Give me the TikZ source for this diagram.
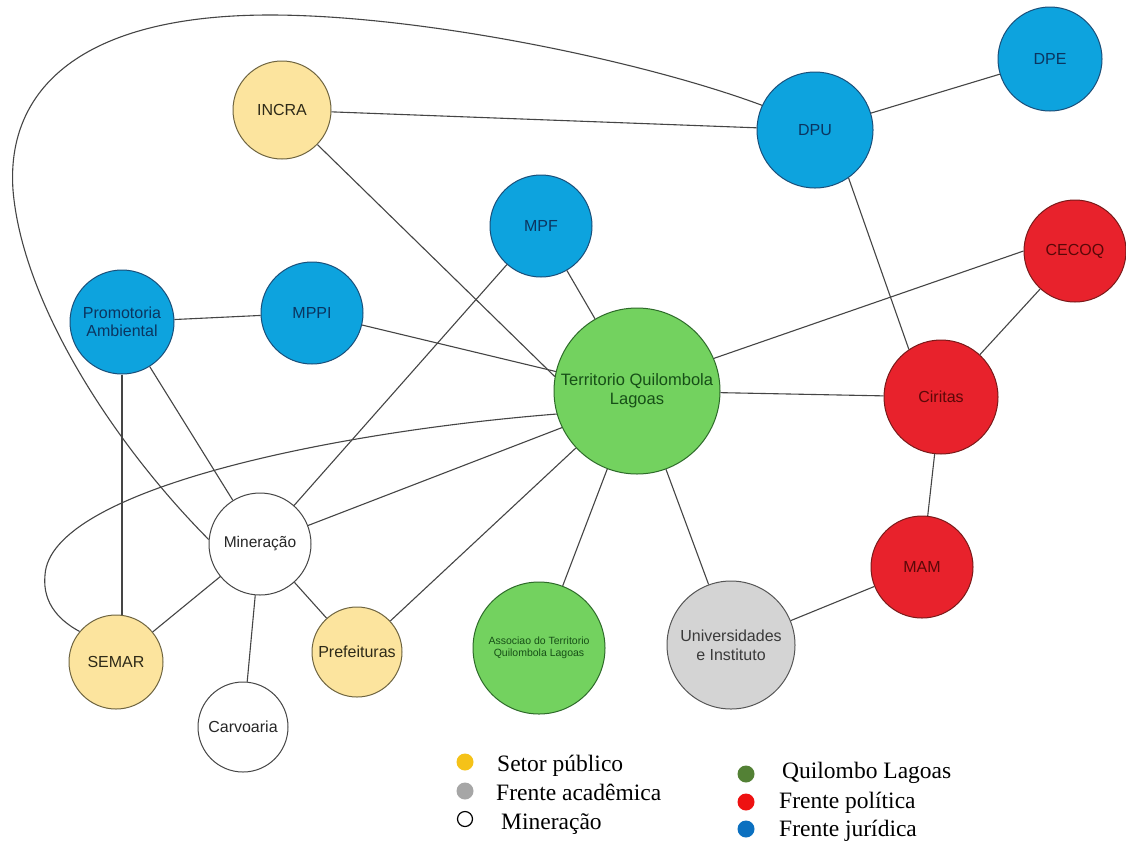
\documentclass[tikz,border=0pt]{standalone}
\usepackage{fontspec}
\setmainfont{Liberation Serif}
\setsansfont{Liberation Sans}
\definecolor{bfill}{HTML}{0DA3DE}
\definecolor{bdraw}{HTML}{1A4F7A}
\definecolor{btext}{HTML}{0B3560}
\definecolor{yfill}{HTML}{FCE49E}
\definecolor{ydraw}{HTML}{6E6440}
\definecolor{ytext}{HTML}{2E2A18}
\definecolor{gfill}{HTML}{73D25F}
\definecolor{gdraw}{HTML}{2E6B2A}
\definecolor{gtext}{HTML}{174F17}
\definecolor{rfill}{HTML}{E8222C}
\definecolor{rdraw}{HTML}{7A1A1A}
\definecolor{rtext}{HTML}{5A0808}
\definecolor{afill}{HTML}{D4D4D4}
\definecolor{adraw}{HTML}{555555}
\definecolor{atext}{HTML}{3A3A3A}
\definecolor{edgec}{HTML}{454545}
\definecolor{lyel}{HTML}{F5C218}
\definecolor{lgry}{HTML}{A6A6A6}
\definecolor{lgrn}{HTML}{538135}
\definecolor{lred}{HTML}{EE1111}
\definecolor{lblu}{HTML}{0B70C0}
\tikzset{
  nd/.style={circle, line width=1pt, inner sep=0pt, align=center,
    font=\sffamily\fontsize{16}{18}\selectfont},
  bnode/.style={nd, fill=bfill, draw=bdraw, text=btext},
  ynode/.style={nd, fill=yfill, draw=ydraw, text=ytext},
  gnode/.style={nd, fill=gfill, draw=gdraw, text=gtext},
  rnode/.style={nd, fill=rfill, draw=rdraw, text=rtext},
  anode/.style={nd, fill=afill, draw=adraw, text=atext},
  wnode/.style={nd, fill=white, draw=edgec, text=black!85},
  ed/.style={draw=edgec, line width=1.1pt},
  ldot/.style={circle, inner sep=0pt, minimum size=17pt},
  ltext/.style={anchor=base west, inner sep=0pt, font=\fontsize{23.5}{25}\selectfont}
}
\begin{document}
\begin{tikzpicture}[x=1pt,y=-1pt]
\useasboundingbox (0,0) rectangle (1126,847);
\fill[white] (0,0) rectangle (1126,847);

% nodes
\node[ynode, minimum size=98pt] (incra) at (282,110) {INCRA};
\node[bnode, minimum size=116pt] (dpu) at (815,130) {DPU};
\node[bnode, minimum size=104pt] (dpe) at (1050,59) {DPE};
\node[bnode, minimum size=102pt] (mpf) at (541,226) {MPF};
\node[bnode, minimum size=104pt] (prom) at (122,322) {Promotoria\\Ambiental};
\node[bnode, minimum size=102pt] (mppi) at (312,313) {MPPI};
\node[gnode, minimum size=166pt, font=\sffamily\fontsize{16.5}{19}\selectfont] (terr) at (637,391) {Territorio Quilombola\\Lagoas};
\node[rnode, minimum size=114pt] (ciritas) at (941,397) {Ciritas};
\node[rnode, minimum size=102pt] (cecoq) at (1075,251) {CECOQ};
\node[rnode, minimum size=102pt] (mam) at (922,567) {MAM};
\node[wnode, minimum size=102pt, font=\sffamily\fontsize{15.5}{17}\selectfont] (mine) at (260,544) {Mineração};
\node[ynode, minimum size=94pt] (semar) at (116,662) {SEMAR};
\node[wnode, minimum size=90pt] (carv) at (243,727) {Carvoaria};
\node[ynode, minimum size=90pt] (pref) at (357,652) {Prefeituras};
\node[gnode, minimum size=132pt, font=\sffamily\fontsize{10.5}{12.5}\selectfont] (assoc) at (539,648) {Associao do Territorio\\Quilombola Lagoas};
\node[anode, minimum size=128pt, font=\sffamily\fontsize{16}{19}\selectfont] (univ) at (731,645) {Universidades\\e Instituto};

% straight connectors
\draw[ed] (incra) -- (dpu);
\draw[ed] (incra) -- (terr.170);
\draw[ed] (dpu) -- (dpe);
\draw[ed] (dpu.305) -- (ciritas.124);
\draw[ed] (mpf) -- (terr);
\draw[ed] (mpf) -- (mine);
\draw[ed] (prom) -- (mppi);
\draw[ed] (mppi) -- (terr);
\draw[ed] (prom.south) -- (semar.north -| prom.south);
\draw[ed] (prom) -- (mine);
\draw[ed] (terr.23) -- (cecoq.180);
\draw[ed] (terr) -- (ciritas);
\draw[ed] (ciritas) -- (cecoq);
\draw[ed] (ciritas) -- (mam);
\draw[ed] (mam) -- (univ);
\draw[ed] (terr) -- (univ);
\draw[ed] (terr) -- (assoc);
\draw[ed] (terr) -- (pref);
\draw[ed] (terr.206) -- (mine);
\draw[ed] (mine) -- (semar);
\draw[ed] (mine) -- (carv);
\draw[ed] (mine) -- (pref);

% curved connectors
\draw[ed] (mine.175) .. controls (110,440) and (22,300) .. (13,190)
  .. controls (6,90) and (80,15) .. (270,15)
  .. controls (420,15) and (640,60) .. (dpu.155);
\draw[ed] (terr.196) .. controls (330,432) and (50,490) .. (45,575)
  .. controls (42,605) and (62,622) .. (semar.140);

% legend
\node[ldot, fill=lyel] (d1) at (465,762) {};
\node[ldot, fill=lgry] (d2) at (465,791) {};
\node[circle, inner sep=0pt, minimum size=15pt, draw=black, line width=1.2pt] (d3) at (465,819) {};
\node[ldot, fill=lgrn] (d4) at (746,774) {};
\node[ldot, fill=lred] (d5) at (746,802) {};
\node[ldot, fill=lblu] (d6) at (746,829) {};
\node[ltext] (t1) at (497,771) {Setor público};
\node[ltext] (t2) at (496,800) {Frente acadêmica};
\node[ltext] (t3) at (501,829) {Mineração};
\node[ltext] (t4) at (782,778) {Quilombo Lagoas};
\node[ltext] (t5) at (779,808) {Frente política};
\node[ltext] (t6) at (779,836) {Frente jurídica};
\end{tikzpicture}
\end{document}
